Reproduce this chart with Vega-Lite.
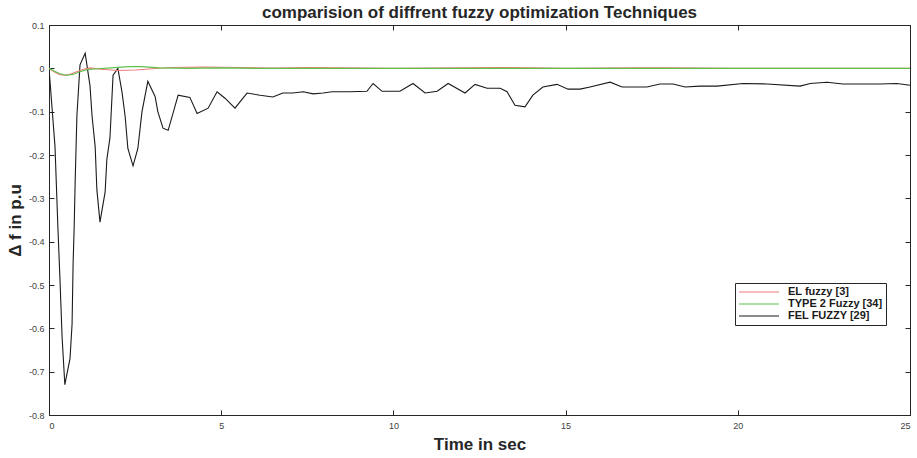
{
  "$schema": "https://vega.github.io/schema/vega-lite/v6.json",
  "autosize": "none",
  "width": 861,
  "height": 390,
  "padding": {"left": 49, "top": 25, "right": 7, "bottom": 43},
  "background": "white",
  "config": {
    "font": "Liberation Sans",
    "view": {"stroke": "#262626", "strokeWidth": 1},
    "axis": {
      "domainColor": "#262626",
      "tickColor": "#262626",
      "tickSize": -5,
      "labelFontSize": 9,
      "labelColor": "#404040",
      "labelFont": "Liberation Sans",
      "grid": false,
      "titleFont": "Liberation Sans",
      "titleFontWeight": "bold",
      "titleFontSize": 17,
      "titleColor": "#262626"
    }
  },
  "title": {
    "text": "comparision of diffrent fuzzy optimization Techniques",
    "font": "Liberation Sans",
    "fontSize": 17,
    "fontWeight": "bold",
    "color": "#262626",
    "offset": 6,
    "dy": 7
  },
  "datasets": {
    "curves": [
      {"t": 0, "v": 0, "s": "FEL FUZZY [29]"},
      {"t": 0.174, "v": -0.18, "s": "FEL FUZZY [29]"},
      {"t": 0.26, "v": -0.37, "s": "FEL FUZZY [29]"},
      {"t": 0.32, "v": -0.49, "s": "FEL FUZZY [29]"},
      {"t": 0.38, "v": -0.62, "s": "FEL FUZZY [29]"},
      {"t": 0.46, "v": -0.73, "s": "FEL FUZZY [29]"},
      {"t": 0.61, "v": -0.67, "s": "FEL FUZZY [29]"},
      {"t": 0.67, "v": -0.59, "s": "FEL FUZZY [29]"},
      {"t": 0.7, "v": -0.45, "s": "FEL FUZZY [29]"},
      {"t": 0.73, "v": -0.37, "s": "FEL FUZZY [29]"},
      {"t": 0.76, "v": -0.26, "s": "FEL FUZZY [29]"},
      {"t": 0.81, "v": -0.11, "s": "FEL FUZZY [29]"},
      {"t": 0.9, "v": 0.008, "s": "FEL FUZZY [29]"},
      {"t": 1.05, "v": 0.035, "s": "FEL FUZZY [29]"},
      {"t": 1.19, "v": -0.04, "s": "FEL FUZZY [29]"},
      {"t": 1.25, "v": -0.11, "s": "FEL FUZZY [29]"},
      {"t": 1.34, "v": -0.18, "s": "FEL FUZZY [29]"},
      {"t": 1.39, "v": -0.28, "s": "FEL FUZZY [29]"},
      {"t": 1.48, "v": -0.355, "s": "FEL FUZZY [29]"},
      {"t": 1.63, "v": -0.285, "s": "FEL FUZZY [29]"},
      {"t": 1.68, "v": -0.21, "s": "FEL FUZZY [29]"},
      {"t": 1.77, "v": -0.16, "s": "FEL FUZZY [29]"},
      {"t": 1.86, "v": -0.016, "s": "FEL FUZZY [29]"},
      {"t": 2.0, "v": 0, "s": "FEL FUZZY [29]"},
      {"t": 2.12, "v": -0.055, "s": "FEL FUZZY [29]"},
      {"t": 2.21, "v": -0.11, "s": "FEL FUZZY [29]"},
      {"t": 2.29, "v": -0.185, "s": "FEL FUZZY [29]"},
      {"t": 2.44, "v": -0.225, "s": "FEL FUZZY [29]"},
      {"t": 2.58, "v": -0.185, "s": "FEL FUZZY [29]"},
      {"t": 2.7, "v": -0.1, "s": "FEL FUZZY [29]"},
      {"t": 2.87, "v": -0.03, "s": "FEL FUZZY [29]"},
      {"t": 3.08, "v": -0.065, "s": "FEL FUZZY [29]"},
      {"t": 3.16, "v": -0.1, "s": "FEL FUZZY [29]"},
      {"t": 3.31, "v": -0.138, "s": "FEL FUZZY [29]"},
      {"t": 3.46, "v": -0.143, "s": "FEL FUZZY [29]"},
      {"t": 3.75, "v": -0.062, "s": "FEL FUZZY [29]"},
      {"t": 4.09, "v": -0.067, "s": "FEL FUZZY [29]"},
      {"t": 4.3, "v": -0.104, "s": "FEL FUZZY [29]"},
      {"t": 4.62, "v": -0.092, "s": "FEL FUZZY [29]"},
      {"t": 4.88, "v": -0.054, "s": "FEL FUZZY [29]"},
      {"t": 5.11, "v": -0.069, "s": "FEL FUZZY [29]"},
      {"t": 5.4, "v": -0.092, "s": "FEL FUZZY [29]"},
      {"t": 5.75, "v": -0.057, "s": "FEL FUZZY [29]"},
      {"t": 6.13, "v": -0.062, "s": "FEL FUZZY [29]"},
      {"t": 6.5, "v": -0.066, "s": "FEL FUZZY [29]"},
      {"t": 6.79, "v": -0.057, "s": "FEL FUZZY [29]"},
      {"t": 7.08, "v": -0.057, "s": "FEL FUZZY [29]"},
      {"t": 7.38, "v": -0.054, "s": "FEL FUZZY [29]"},
      {"t": 7.67, "v": -0.059, "s": "FEL FUZZY [29]"},
      {"t": 7.96, "v": -0.057, "s": "FEL FUZZY [29]"},
      {"t": 8.22, "v": -0.054, "s": "FEL FUZZY [29]"},
      {"t": 8.74, "v": -0.054, "s": "FEL FUZZY [29]"},
      {"t": 9.23, "v": -0.053, "s": "FEL FUZZY [29]"},
      {"t": 9.41, "v": -0.035, "s": "FEL FUZZY [29]"},
      {"t": 9.67, "v": -0.053, "s": "FEL FUZZY [29]"},
      {"t": 10.19, "v": -0.053, "s": "FEL FUZZY [29]"},
      {"t": 10.57, "v": -0.035, "s": "FEL FUZZY [29]"},
      {"t": 10.92, "v": -0.057, "s": "FEL FUZZY [29]"},
      {"t": 11.27, "v": -0.053, "s": "FEL FUZZY [29]"},
      {"t": 11.59, "v": -0.035, "s": "FEL FUZZY [29]"},
      {"t": 12.08, "v": -0.057, "s": "FEL FUZZY [29]"},
      {"t": 12.37, "v": -0.037, "s": "FEL FUZZY [29]"},
      {"t": 12.72, "v": -0.046, "s": "FEL FUZZY [29]"},
      {"t": 13.1, "v": -0.046, "s": "FEL FUZZY [29]"},
      {"t": 13.3, "v": -0.054, "s": "FEL FUZZY [29]"},
      {"t": 13.53, "v": -0.085, "s": "FEL FUZZY [29]"},
      {"t": 13.82, "v": -0.089, "s": "FEL FUZZY [29]"},
      {"t": 14.05, "v": -0.062, "s": "FEL FUZZY [29]"},
      {"t": 14.34, "v": -0.043, "s": "FEL FUZZY [29]"},
      {"t": 14.75, "v": -0.037, "s": "FEL FUZZY [29]"},
      {"t": 15.07, "v": -0.048, "s": "FEL FUZZY [29]"},
      {"t": 15.42, "v": -0.048, "s": "FEL FUZZY [29]"},
      {"t": 15.71, "v": -0.043, "s": "FEL FUZZY [29]"},
      {"t": 16.29, "v": -0.032, "s": "FEL FUZZY [29]"},
      {"t": 16.64, "v": -0.043, "s": "FEL FUZZY [29]"},
      {"t": 17.36, "v": -0.043, "s": "FEL FUZZY [29]"},
      {"t": 17.74, "v": -0.036, "s": "FEL FUZZY [29]"},
      {"t": 18.12, "v": -0.036, "s": "FEL FUZZY [29]"},
      {"t": 18.47, "v": -0.043, "s": "FEL FUZZY [29]"},
      {"t": 18.9, "v": -0.041, "s": "FEL FUZZY [29]"},
      {"t": 19.4, "v": -0.041, "s": "FEL FUZZY [29]"},
      {"t": 20.15, "v": -0.035, "s": "FEL FUZZY [29]"},
      {"t": 20.85, "v": -0.036, "s": "FEL FUZZY [29]"},
      {"t": 21.81, "v": -0.041, "s": "FEL FUZZY [29]"},
      {"t": 22.1, "v": -0.035, "s": "FEL FUZZY [29]"},
      {"t": 22.59, "v": -0.032, "s": "FEL FUZZY [29]"},
      {"t": 23.05, "v": -0.036, "s": "FEL FUZZY [29]"},
      {"t": 24.13, "v": -0.036, "s": "FEL FUZZY [29]"},
      {"t": 24.62, "v": -0.035, "s": "FEL FUZZY [29]"},
      {"t": 25, "v": -0.039, "s": "FEL FUZZY [29]"},

      {"t": 0, "v": 0, "s": "EL fuzzy [3]"},
      {"t": 0.15, "v": -0.008, "s": "EL fuzzy [3]"},
      {"t": 0.3, "v": -0.014, "s": "EL fuzzy [3]"},
      {"t": 0.45, "v": -0.016, "s": "EL fuzzy [3]"},
      {"t": 0.6, "v": -0.014, "s": "EL fuzzy [3]"},
      {"t": 0.8, "v": -0.008, "s": "EL fuzzy [3]"},
      {"t": 1.0, "v": -0.002, "s": "EL fuzzy [3]"},
      {"t": 1.2, "v": 0.001, "s": "EL fuzzy [3]"},
      {"t": 1.5, "v": -0.002, "s": "EL fuzzy [3]"},
      {"t": 2.0, "v": -0.005, "s": "EL fuzzy [3]"},
      {"t": 2.5, "v": -0.004, "s": "EL fuzzy [3]"},
      {"t": 3.0, "v": -0.001, "s": "EL fuzzy [3]"},
      {"t": 3.5, "v": 0.002, "s": "EL fuzzy [3]"},
      {"t": 4.5, "v": 0.003, "s": "EL fuzzy [3]"},
      {"t": 5.5, "v": 0.002, "s": "EL fuzzy [3]"},
      {"t": 6.5, "v": 0.0005, "s": "EL fuzzy [3]"},
      {"t": 7.5, "v": 0.002, "s": "EL fuzzy [3]"},
      {"t": 8.5, "v": 0.001, "s": "EL fuzzy [3]"},
      {"t": 10, "v": 0, "s": "EL fuzzy [3]"},
      {"t": 12, "v": 0.001, "s": "EL fuzzy [3]"},
      {"t": 13, "v": 0.002, "s": "EL fuzzy [3]"},
      {"t": 14, "v": 0.001, "s": "EL fuzzy [3]"},
      {"t": 15, "v": 0, "s": "EL fuzzy [3]"},
      {"t": 17, "v": 0.001, "s": "EL fuzzy [3]"},
      {"t": 18, "v": 0.001, "s": "EL fuzzy [3]"},
      {"t": 20, "v": 0, "s": "EL fuzzy [3]"},
      {"t": 25, "v": 0, "s": "EL fuzzy [3]"},

      {"t": 0, "v": 0, "s": "TYPE 2 Fuzzy [34]"},
      {"t": 0.15, "v": -0.006, "s": "TYPE 2 Fuzzy [34]"},
      {"t": 0.3, "v": -0.012, "s": "TYPE 2 Fuzzy [34]"},
      {"t": 0.5, "v": -0.016, "s": "TYPE 2 Fuzzy [34]"},
      {"t": 0.7, "v": -0.014, "s": "TYPE 2 Fuzzy [34]"},
      {"t": 0.9, "v": -0.008, "s": "TYPE 2 Fuzzy [34]"},
      {"t": 1.1, "v": -0.003, "s": "TYPE 2 Fuzzy [34]"},
      {"t": 1.4, "v": -0.001, "s": "TYPE 2 Fuzzy [34]"},
      {"t": 1.8, "v": 0.001, "s": "TYPE 2 Fuzzy [34]"},
      {"t": 2.3, "v": 0.004, "s": "TYPE 2 Fuzzy [34]"},
      {"t": 2.7, "v": 0.004, "s": "TYPE 2 Fuzzy [34]"},
      {"t": 3.2, "v": 0.001, "s": "TYPE 2 Fuzzy [34]"},
      {"t": 4, "v": 0, "s": "TYPE 2 Fuzzy [34]"},
      {"t": 5, "v": 0.001, "s": "TYPE 2 Fuzzy [34]"},
      {"t": 6, "v": 0, "s": "TYPE 2 Fuzzy [34]"},
      {"t": 25, "v": 0, "s": "TYPE 2 Fuzzy [34]"}
    ]
  },
  "data": {"name": "curves"},
  "layer": [
    {
      "mark": {"type": "line", "strokeWidth": 1.1, "clip": true},
      "encoding": {
        "x": {
          "field": "t", "type": "quantitative",
          "scale": {"domain": [0, 25], "nice": false, "zero": false},
          "axis": {"values": [0, 5, 10, 15, 20, 25], "title": "Time in sec", "titlePadding": 6, "labelPadding": 11}
        },
        "y": {
          "field": "v", "type": "quantitative",
          "scale": {"domain": [-0.8, 0.1], "nice": false, "zero": false},
          "axis": {
            "values": [0.1, 0, -0.1, -0.2, -0.3, -0.4, -0.5, -0.6, -0.7, -0.8],
            "labelExpr": "replace(format(datum.value, '.1~f'), '\u2212', '-')",
            "title": "\u0394 f in p.u",
            "titlePadding": 4,
            "labelPadding": 10
          }
        },
        "color": {
          "field": "s", "type": "nominal",
          "scale": {
            "domain": ["EL fuzzy [3]", "TYPE 2 Fuzzy [34]", "FEL FUZZY [29]"],
            "range": ["#f07a7a", "#5cc24a", "#1a1a1a"]
          },
          "legend": {
            "orient": "none",
            "legendX": 686,
            "legendY": 258,
            "title": null,
            "symbolType": "stroke",
            "symbolSize": 1600,
            "symbolStrokeWidth": 1.2,
            "clipHeight": 12,
            "labelFont": "Liberation Sans",
            "labelFontSize": 11,
            "labelFontWeight": "bold",
            "labelColor": "#1a1a1a",
            "labelOffset": 8,
            "rowPadding": 0,
            "padding": 3,
            "strokeColor": "#262626",
            "fillColor": "white"
          }
        }
      }
    },
    {
      "mark": {"type": "line", "opacity": 0},
      "encoding": {
        "x": {
          "field": "t", "type": "quantitative",
          "axis": {"orient": "top", "values": [0, 5, 10, 15, 20, 25], "labels": false, "title": null, "maxExtent": 0}
        },
        "y": {
          "field": "v", "type": "quantitative",
          "axis": {"orient": "right", "values": [0.1, 0, -0.1, -0.2, -0.3, -0.4, -0.5, -0.6, -0.7, -0.8], "labels": false, "title": null}
        }
      }
    }
  ],
  "resolve": {"scale": {"x": "shared", "y": "shared"}, "axis": {"x": "independent", "y": "independent"}}
}
